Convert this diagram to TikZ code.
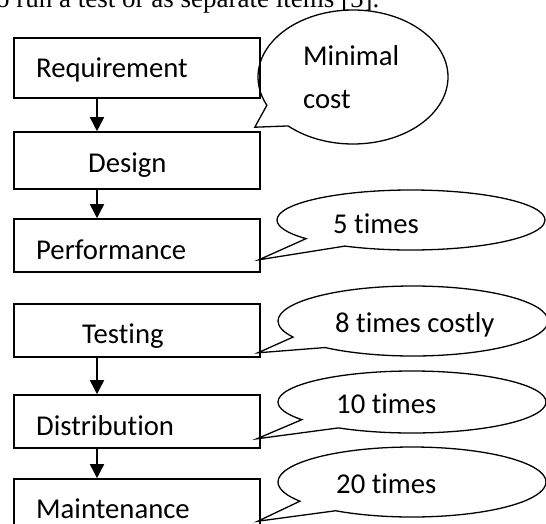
\documentclass[tikz,border=0pt]{standalone}
\usepackage{fontspec}
\setmainfont{Carlito}[Ligatures=CommonOff]
\newfontfamily\runon{Liberation Serif}
\usetikzlibrary{calc,arrows.meta,shapes.callouts}
\tikzset{
  stage/.style={draw, line width=1.6pt, minimum width=246pt, inner sep=0pt},
  remark/.style={ellipse callout, draw, line width=1.3pt, inner sep=0pt, callout pointer arc=22},
  word/.style={anchor=base west, inner sep=0pt, font=\fontsize{28.7}{34}\selectfont},
  flow/.style={line width=1.6pt, -{Triangle[length=14pt,width=14pt]}}
}

\begin{document}
\begin{tikzpicture}[x=1pt, y=-1pt]
			%%%%% START %%%%%
			\useasboundingbox (0,0) rectangle (546,523);
			\clip (0,0) rectangle (546,523);
			
			\node[anchor=base west, inner sep=0pt, font=\runon\fontsize{27}{32}\selectfont] (t-top) at (-4,7.3) {o run a test or as separate items [5].};
			
			\node[stage, minimum height=60pt] (req) at (137,68) {};
			\node[stage, minimum height=57pt] (des) at (137,160.5) {};
			\node[stage, minimum height=53pt] (perf) at (137,245.5) {};
			\node[stage, minimum height=53pt] (test) at (137,330.5) {};
			\node[stage, minimum height=53pt] (dist) at (137,421.5) {};
			\node[stage, minimum height=53pt] (maint) at (137,505.5) {};
			
			\node[word] (t-req) at (36,77) {Requirement};
			\node[word] (t-des) at (88,172) {Design};
			\node[word] (t-perf) at (36,259) {Performance};
			\begin{scope}
				\clip (0,0) rectangle (546,347);
				\node[word] (t-test) at (82,343) {Testing};
			\end{scope}
			\node[word] (t-dist) at (36,435) {Distribution};
			\node[word] (t-maint) at (36,518) {Maintenance};
			
			\coordinate (ax) at (97,0);
			\draw[flow] (req.south -| ax) -- (des.north -| ax);
			\draw[flow] (des.south -| ax) -- (perf.north -| ax);
			\draw[flow] (test.south -| ax) -- (dist.north -| ax);
			\draw[flow] (dist.south -| ax) -- (maint.north -| ax);
			
			\node[remark, minimum width=190pt, minimum height=134pt,
				callout absolute pointer={($(des.north east)+(-6,-4)$)}] (b-min) at (353,77) {};
			\node[remark, minimum width=268pt, minimum height=60pt,
				callout absolute pointer={($(perf.south east)+(-2,-13)$)}] (b-5) at (411,220) {};
			\node[remark, minimum width=270pt, minimum height=70pt,
				callout absolute pointer={($(test.south east)+(-3,-5)$)}] (b-8) at (413,321) {};
			\node[remark, minimum width=268pt, minimum height=62pt,
				callout absolute pointer={($(dist.south east)+(-4,-10)$)}] (b-10) at (412,402) {};
			\node[remark, minimum width=268pt, minimum height=70pt,
				callout absolute pointer={($(maint.north east)+(-3,43)$)}] (b-20) at (412,482) {};
			
			\node[word] (t-min1) at (303,65) {Minimal};
			\node[word] (t-min2) at (303,108) {cost};
			\node[word] (t-5) at (333,233) {5 times};
			\node[word] (t-8) at (335,332) {8 times costly};
			\node[word] (t-10) at (336,413) {10 times};
			\node[word] (t-20) at (336,493) {20 times};
			%%%%% END %%%%%
\end{tikzpicture}
\end{document}
